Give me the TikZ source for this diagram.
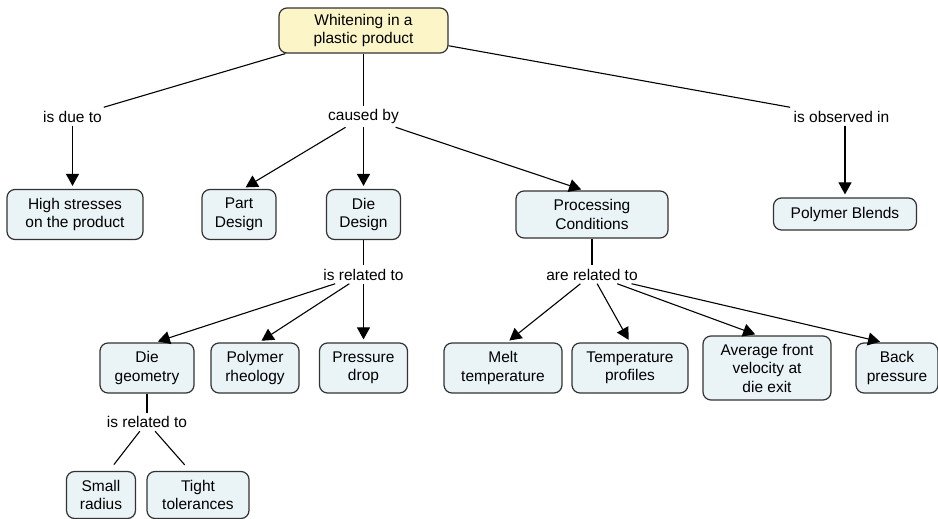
\documentclass[tikz,border=0pt]{standalone}
\usepackage{fontspec}
\setmainfont{Liberation Sans}
\usetikzlibrary{positioning, arrows.meta}

\definecolor{conceptfill}{HTML}{EAF3F6}
\definecolor{topfill}{HTML}{FCF5C8}
\definecolor{conceptdraw}{HTML}{333333}

\tikzset{
  concept/.style={draw=conceptdraw, fill=conceptfill, rounded corners=8pt,
    line width=1.2pt, align=center, inner sep=2pt,
    font=\fontsize{15.5}{18.5}\selectfont},
  linkword/.style={inner sep=3pt, font=\fontsize{15.5}{18.5}\selectfont},
  arr/.style={-{Triangle[length=12pt,width=13pt]}, shorten >=3pt},
}

\begin{document}
\begin{tikzpicture}[x=1pt, y=-1pt, on grid, line width=1.1pt]
    \useasboundingbox (0,0) rectangle (938,519);
    \node[concept, fill=topfill, minimum width=169pt, minimum height=45pt] (white) at (363.5,30.5) {Whitening in a\\plastic product};
    \node[linkword] (causedby) [below=86pt of white] {caused by};
    \node[linkword] (dueto) [left=291pt of causedby] {is due to};
    \node[linkword] (observed) [right=478pt of causedby] {is observed in};

    \node[concept, minimum width=136pt, minimum height=50pt] (high) [below right=98pt and 2.5pt of dueto] {High stresses\\on the product};
    \node[concept, minimum width=74pt, minimum height=50pt] (part) [below left=98pt and 124.5pt of causedby] {Part\\Design};
    \node[concept, minimum width=74pt, minimum height=50pt] (die) [below=98pt of causedby] {Die\\Design};
    \node[concept, minimum width=152pt, minimum height=47pt] (proc) [below right=98pt and 228.5pt of causedby] {Processing\\Conditions};
    \node[concept, minimum width=143pt, minimum height=32pt] (blends) [below right=97.5pt and 3.5pt of observed] {Polymer Blends};

    \node[linkword] (dierel) [below=60pt of die] {is related to};
    \node[linkword] (procrel) [below=60pt of proc] {are related to};

    \node[concept, minimum width=88pt, minimum height=50pt] (pdrop) [below=93.5pt of dierel] {Pressure\\drop};
    \node[concept, minimum width=88pt, minimum height=50pt] (rheo) [left=108.5pt of pdrop] {Polymer\\rheology};
    \node[concept, minimum width=94pt, minimum height=50pt] (geom) [left=108pt of rheo] {Die\\geometry};

    \node[concept, minimum width=118pt, minimum height=50pt] (melt) [below left=93.5pt and 89pt of procrel] {Melt\\temperature};
    \node[concept, minimum width=116pt, minimum height=50pt] (tprof) [right=127pt of melt] {Temperature\\profiles};
    \node[concept, minimum width=128pt, minimum height=64pt] (avg) [right=137pt of tprof] {Average front\\velocity at\\die exit};
    \node[concept, minimum width=82pt, minimum height=50pt] (back) [right=130pt of avg] {Back\\pressure};

    \node[linkword] (geomrel) [below=54pt of geom] {is related to};
    \node[concept, minimum width=69pt, minimum height=47pt] (small) [below left=73pt and 46pt of geomrel] {Small\\radius};
    \node[concept, minimum width=102pt, minimum height=47pt] (tight) [right=97pt of small] {Tight\\tolerances};

    % top level links
    \draw (white) -- (dueto);
    \draw (white) -- (causedby);
    \draw (white) -- (observed);
    \draw[arr] (dueto) -- (dueto |- high.north);
    \draw[arr] (blends.north |- observed.south) -- (blends.north);
    \draw[arr] (causedby) -- ([xshift=4pt]part.north);
    \draw[arr] (causedby) -- (die.north);
    \draw[arr] (causedby) -- ([xshift=-8pt]proc.north);

    % die design
    \draw (die) -- (dierel);
    \draw[arr] (dierel) -- ([xshift=8pt]geom.north);
    \draw[arr] (dierel) -- ([xshift=4pt]rheo.north);
    \draw[arr] (dierel) -- (pdrop.north);

    % processing conditions
    \draw (proc) -- (procrel);
    \draw[arr] (procrel) -- ([xshift=4pt]melt.north);
    \draw[arr] (procrel) -- (tprof.north);
    \draw[arr] (procrel) -- ([xshift=-9pt]avg.north);
    \draw[arr] (procrel) -- ([xshift=-14pt]back.north);

    % die geometry
    \draw (geom) -- (geomrel);
    \draw[shorten >=8pt] (geomrel) -- ([xshift=8pt]small.north);
    \draw[shorten >=8pt] (geomrel) -- ([xshift=-8pt]tight.north);
  \end{tikzpicture}
\end{document}
